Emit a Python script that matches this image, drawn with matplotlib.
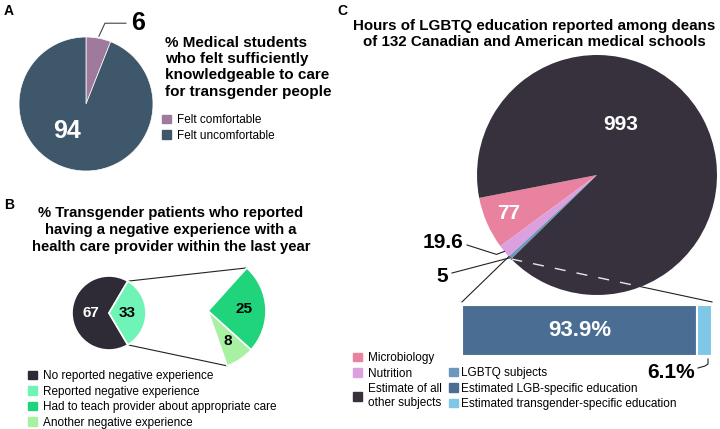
import numpy as np
import matplotlib
matplotlib.use('Agg')
import matplotlib.pyplot as plt
from matplotlib.patches import Patch

plt.rcParams['font.family'] = ['Liberation Sans', 'DejaVu Sans']

W, H = 720, 429

# panel A data
a_labels = ['Felt comfortable', 'Felt uncomfortable']
a_values = [6, 94]
a_colors = ['#a07a9c', '#3e576b']
a_title = '% Medical students\nwho felt sufficiently\nknowledgeable to care\nfor transgender people'

# panel B data
b_labels = ['No reported negative experience', 'Reported negative experience',
            'Had to teach provider about appropriate care', 'Another negative experience']
b_outer = [67, 33]
b_split = [25, 8]
b_colors = ['#2f2b36', '#70f3b6', '#1fd47b', '#a8f0a2']
b_title = ('% Transgender patients who reported\nhaving a negative experience with a\n'
           'health care provider within the last year')

# panel C data
c_labels = ['Microbiology', 'Nutrition', 'LGBTQ subjects', 'Estimate of all\nother subjects']
c_hours = [77, 19.6, 5, 993]
c_colors = ['#e8829f', '#dca0de', '#6d98bd', '#37313e']
c_bar_labels = ['Estimated LGB-specific education', 'Estimated transgender-specific education']
c_bar_pct = [93.9, 6.1]
c_bar_colors = ['#4a6d94', '#80c6e6']
c_title = 'Hours of LGBTQ education reported among deans\nof 132 Canadian and American medical schools'


def Y(y):
    # pixel row (from top) -> data y
    return H - y


def edge(w, ang, k=1.0):
    a = np.radians(ang)
    return (w.center[0] + k * w.r * np.cos(a), w.center[1] + k * w.r * np.sin(a))


fig = plt.figure(figsize=(7.2, 4.29), dpi=100)
ax = fig.add_axes([0, 0, 1, 1])
ax_bar = fig.add_axes([462 / W, (H - 356) / H, 250 / W, 51 / H])

bold = dict(fontweight='bold')
leg_kw = dict(frameon=False, fontsize=8.5, handlelength=0.75, handleheight=0.75,
              labelspacing=0.3, borderpad=0, borderaxespad=0)

# ---------------- A ----------------
wa, _ = ax.pie(a_values, colors=a_colors, startangle=90, counterclock=False,
               center=(86, Y(104)), radius=67,
               wedgeprops=dict(edgecolor='white', linewidth=0.5))
ax.text(67, Y(131), str(a_values[1]), color='white', fontsize=18, ha='center', va='center', **bold)
p0 = edge(wa[0], (wa[0].theta1 + wa[0].theta2) / 2, 1.03)
ax.plot([p0[0], p0[0] + 6, p0[0] + 27], [p0[1], p0[1] + 13, p0[1] + 13], color='#444', lw=0.8)
ax.text(p0[0] + 32, p0[1] + 13, str(a_values[0]), fontsize=18, ha='left', va='center', **bold)
ax.text(165, Y(36), a_title, fontsize=11, ha='left', va='top', linespacing=1.2, **bold)
ax.text(4, Y(4), 'A', fontsize=10, ha='left', va='top', **bold)

a_handles = [Patch(color=c) for c in a_colors]
fig.legend(handles=a_handles, labels=a_labels, loc='upper left', bbox_to_anchor=(162, Y(114)),
           bbox_transform=ax.transData, handletextpad=0.5, **leg_kw)

# ---------------- B ----------------
ax.text(4, Y(198), 'B', fontsize=10, ha='left', va='top', **bold)
ax.text(171, Y(206), b_title, fontsize=10.7, ha='center', va='top', linespacing=1.25, **bold)
start_b = 360 * b_outer[1] / sum(b_outer) / 2
wb, _, tb = ax.pie(b_outer, colors=b_colors[:2], startangle=start_b,
                   center=(109, Y(313)), radius=37, autopct=lambda p: f'{p:.0f}',
                   pctdistance=0.5, wedgeprops=dict(edgecolor='white', linewidth=1.2),
                   textprops=dict(fontsize=11, fontweight='bold'))
tb[0].set_color('white')
wr, _, tr = ax.pie([v / 100 for v in b_split], colors=b_colors[2:], startangle=48,
                   counterclock=False, normalize=False, explode=[0, 0.1],
                   center=(208, Y(311)), radius=58, autopct=lambda p: f'{p:.0f}',
                   pctdistance=0.62, wedgeprops=dict(edgecolor='white', linewidth=1.2),
                   textprops=dict(fontsize=11, fontweight='bold'))
# connectors from left slice to the split pie
m = wb[1]
top_l = edge(m, m.theta2)
bot_l = edge(m, m.theta1)
top_r = edge(wr[0], wr[0].theta2)
bot_r = edge(wr[1], wr[1].theta1)
ax.plot([top_l[0], top_r[0]], [top_l[1], top_r[1]], color='#222', lw=0.8, zorder=0.5)
ax.plot([bot_l[0], bot_r[0]], [bot_l[1], bot_r[1]], color='#222', lw=0.8, zorder=0.5)

b_handles = [Patch(color=c) for c in b_colors]
fig.legend(handles=b_handles, labels=b_labels, loc='upper left', bbox_to_anchor=(28, Y(370)),
           bbox_transform=ax.transData, handletextpad=0.5, **leg_kw)

# ---------------- C ----------------
ax.text(337, Y(4), 'C', fontsize=10, ha='left', va='top', **bold)
ax.text(534, Y(19), c_title, fontsize=10.9, ha='center', va='top', linespacing=1.2, **bold)
wc, _ = ax.pie(c_hours, colors=c_colors, startangle=191, center=(597, Y(175)), radius=120,
               wedgeprops=dict(linewidth=0))
mid = np.radians((wc[0].theta1 + wc[0].theta2) / 2)
ax.text(597 + 0.8 * 120 * np.cos(mid), Y(175) + 0.8 * 120 * np.sin(mid), f'{c_hours[0]:g}',
        color='white', fontsize=15, ha='center', va='center', **bold)
ax.text(621, Y(125), f'{c_hours[3]:g}', color='white', fontsize=15, ha='center', va='center', **bold)

ax.set_xlim(0, W)
ax.set_ylim(0, H)
ax.set_aspect('auto')
ax.axis('off')

# stacked bar for LGBTQ split
ax_bar.barh(0, c_bar_pct[0], height=1, color=c_bar_colors[0], edgecolor='white', lw=1.5)
ax_bar.barh(0, c_bar_pct[1], left=c_bar_pct[0], height=1, color=c_bar_colors[1],
            edgecolor='white', lw=1.5)
ax_bar.set_xlim(0, 100)
ax_bar.set_ylim(-0.5, 0.5)
ax_bar.axis('off')
ax_bar.text(c_bar_pct[0] / 2, 0, f'{c_bar_pct[0]}%', color='white', fontsize=16,
            ha='center', va='center', **bold)

to_main = ax.transData.inverted()
bl = to_main.transform(ax_bar.transAxes.transform((0, 1.06)))
br = to_main.transform(ax_bar.transAxes.transform((1, 1.06)))
bbr = to_main.transform(ax_bar.transAxes.transform((1, 0)))

g = wc[2]
q1 = edge(g, g.theta1)
q2 = edge(g, g.theta2)
ax.plot([q1[0], bl[0]], [q1[1], bl[1]], color='#222', lw=0.8)
ax.plot([q2[0], br[0]], [q2[1], br[1]], color='#222', lw=0.8, zorder=0.5)
dash, = ax.plot([q2[0], br[0]], [q2[1], br[1]], color='#e6e6ea', lw=1, ls=(0, (8, 8)), zorder=3)
dash.set_clip_path(wc[3])

# value callouts for thin slices
n = wc[1]
pn = edge(n, (n.theta1 + n.theta2) / 2, 1.0)
ax.plot([467, pn[0] - 8, pn[0]], [Y(245), pn[1] - 3, pn[1]], color='#222', lw=0.8)
ax.text(463, Y(243), f'{c_hours[1]:g}', fontsize=15, ha='right', va='center', **bold)
pg = edge(g, (g.theta1 + g.theta2) / 2, 1.0)
ax.plot([452, pg[0]], [Y(273), pg[1]], color='#222', lw=0.8)
ax.text(448, Y(277), f'{c_hours[2]:g}', fontsize=15, ha='right', va='center', **bold)

ax.plot([bbr[0] - 14, bbr[0] - 7, bbr[0] - 4, bbr[0] - 4],
        [bbr[1] - 12, bbr[1] - 10, bbr[1] - 8, bbr[1] - 3], color='#222', lw=0.8)
ax.text(bbr[0] - 17, bbr[1] - 17, f'{c_bar_pct[1]}%', fontsize=15, ha='right', va='center', **bold)

c1_handles = [Patch(color=c) for c in [c_colors[0], c_colors[1], c_colors[3]]]
fig.legend(handles=c1_handles, labels=[c_labels[0], c_labels[1], c_labels[3]], loc='upper left',
           bbox_to_anchor=(353, Y(352)), bbox_transform=ax.transData, handletextpad=0.5, **leg_kw)
c2_handles = [Patch(color=c) for c in [c_colors[2]] + c_bar_colors]
fig.legend(handles=c2_handles, labels=[c_labels[2]] + c_bar_labels, loc='upper left',
           bbox_to_anchor=(449, Y(367)), bbox_transform=ax.transData, handletextpad=0.3, **leg_kw)

fig.savefig('out.png', dpi=100)
